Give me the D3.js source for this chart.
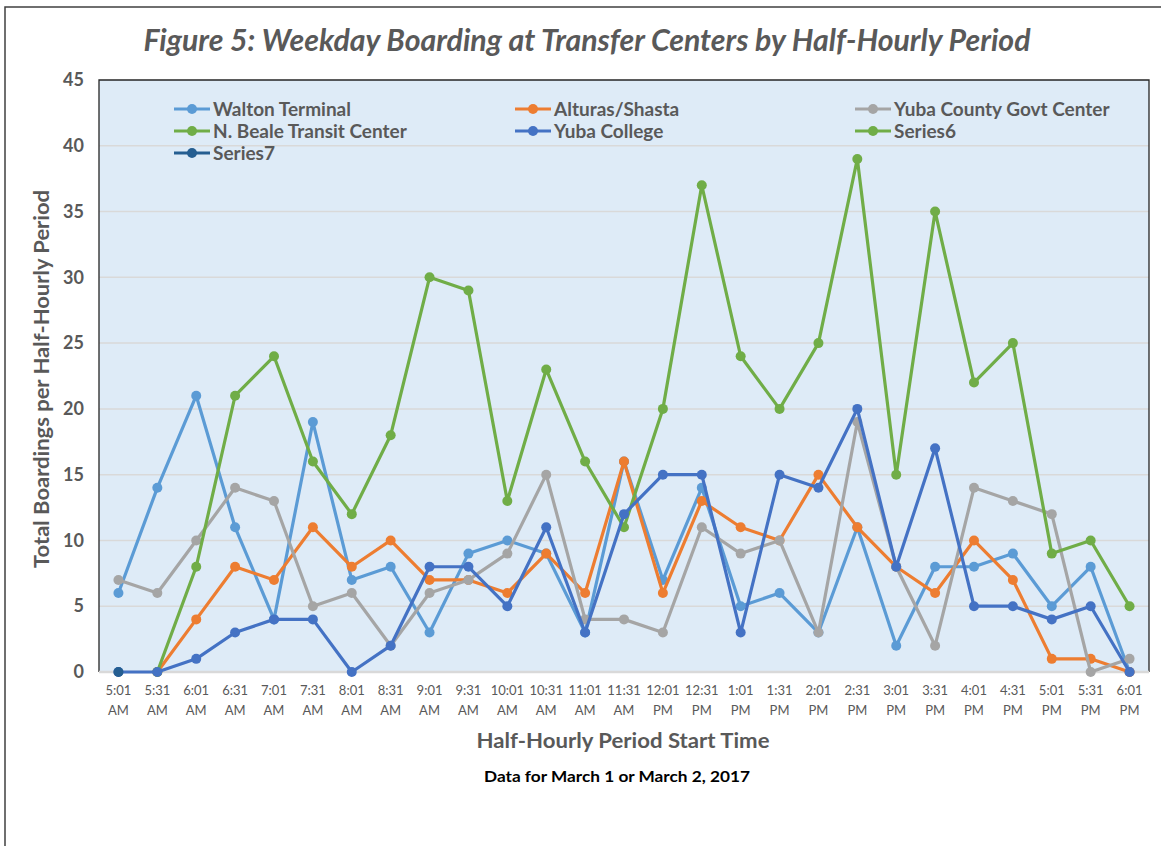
<!DOCTYPE html>
<html>
<head>
<meta charset="utf-8">
<script src="https://cdn.jsdelivr.net/npm/d3@7"></script>
<style>
  body { margin: 0; background: #fff; }
  svg { display: block; font-family: Lato, "Open Sans", sans-serif; }
</style>
</head>
<body>
<svg width="1161" height="846"></svg>
<script>
const times = ["5:01 AM", "5:31 AM", "6:01 AM", "6:31 AM", "7:01 AM", "7:31 AM", "8:01 AM", "8:31 AM",
  "9:01 AM", "9:31 AM", "10:01 AM", "10:31 AM", "11:01 AM", "11:31 AM", "12:01 PM", "12:31 PM",
  "1:01 PM", "1:31 PM", "2:01 PM", "2:31 PM", "3:01 PM", "3:31 PM", "4:01 PM", "4:31 PM",
  "5:01 PM", "5:31 PM", "6:01 PM"];

const walton = [6, 14, 21, 11, 4, 19, 7, 8, 3, 9, 10, 9, 3, 16, 7, 14, 5, 6, 3, 11, 2, 8, 8, 9, 5, 8, 0];
const alturas = [null, 0, 4, 8, 7, 11, 8, 10, 7, 7, 6, 9, 6, 16, 6, 13, 11, 10, 15, 11, 8, 6, 10, 7, 1, 1, 0];
const yubaCounty = [7, 6, 10, 14, 13, 5, 6, 2, 6, 7, 9, 15, 4, 4, 3, 11, 9, 10, 3, 19, 8, 2, 14, 13, 12, 0, 1];
const nBeale = [null, 0, 8, 21, 24, 16, 12, 18, 30, 29, 13, 23, 16, 11, 20, 37, 24, 20, 25, 39, 15, 35, 22, 25, 9, 10, 5];
const yubaCollege = [0, 0, 1, 3, 4, 4, 0, 2, 8, 8, 5, 11, 3, 12, 15, 15, 3, 15, 14, 20, 8, 17, 5, 5, 4, 5, 0];
const series6 = [];
const series7 = [0];

const yTicks = [0, 5, 10, 15, 20, 25, 30, 35, 40, 45];

const series = [
  { name: "Walton Terminal", values: walton, color: "#5B9BD5" },
  { name: "Alturas/Shasta", values: alturas, color: "#ED7D31" },
  { name: "Yuba County Govt Center", values: yubaCounty, color: "#A5A5A5" },
  { name: "N. Beale Transit Center", values: nBeale, color: "#70AD47" },
  { name: "Yuba College", values: yubaCollege, color: "#4472C4" },
  { name: "Series6", values: series6, color: "#70AD47" },
  { name: "Series7", values: series7, color: "#255E91" }
];

const svg = d3.select("svg");
const textColor = "#595959";

// plot area
const plot = { left: 99, right: 1149, top: 80, bottom: 672 };

const x = d3.scaleBand()
  .domain(times)
  .range([plot.left, plot.right]);

const y = d3.scaleLinear()
  .domain([0, 45])
  .range([plot.bottom, plot.top]);

// outer frame (partially visible)
svg.append("path")
  .attr("d", "M5,846 V7 H1161")
  .attr("fill", "none")
  .attr("stroke", "#404040")
  .attr("stroke-width", 1.5);

svg.append("rect")
  .attr("x", plot.left)
  .attr("y", plot.top)
  .attr("width", plot.right - plot.left)
  .attr("height", plot.bottom - plot.top)
  .attr("fill", "#DEEBF7");

// gridlines
svg.append("g")
  .selectAll("line")
  .data(yTicks.filter(d => d > 0 && d < 45))
  .enter()
  .append("line")
  .attr("x1", plot.left)
  .attr("x2", plot.right)
  .attr("y1", d => y(d))
  .attr("y2", d => y(d))
  .attr("stroke", "#D9D9D9")
  .attr("stroke-width", 1.5);

// plot border: top, left, right dark; bottom is the gray category axis
svg.append("path")
  .attr("d", `M${plot.left},${plot.bottom} V${plot.top} H${plot.right} V${plot.bottom}`)
  .attr("fill", "none")
  .attr("stroke", "#262626")
  .attr("stroke-width", 1.3);

svg.append("line")
  .attr("x1", plot.left)
  .attr("x2", plot.right)
  .attr("y1", plot.bottom)
  .attr("y2", plot.bottom)
  .attr("stroke", "#D9D9D9")
  .attr("stroke-width", 2.5);

// y axis labels
const yAxis = d3.axisLeft(y).tickValues(yTicks).tickSize(0).tickPadding(15);
const yG = svg.append("g")
  .attr("transform", `translate(${plot.left},0)`)
  .call(yAxis);
yG.select(".domain").remove();
yG.selectAll("text")
  .attr("fill", textColor)
  .attr("font-size", 18)
  .attr("font-weight", "bold")
  .attr("font-family", "Lato, sans-serif");

// x axis labels (two lines)
const xAxis = d3.axisBottom(x).tickSize(0).tickPadding(14);
const xG = svg.append("g")
  .attr("transform", `translate(0,${plot.bottom})`)
  .call(xAxis);
xG.select(".domain").remove();
xG.selectAll("text")
  .attr("fill", textColor)
  .attr("font-size", 13)
  .attr("font-family", "Lato, sans-serif")
  .each(function(d) {
    const parts = d.split(" ");
    const t = d3.select(this).text(null);
    t.append("tspan").attr("x", 0).text(parts[0]);
    t.append("tspan").attr("x", 0).attr("dy", "1.55em").text(parts[1]);
  });

// series
const line = d3.line()
  .defined(d => d.v != null)
  .x(d => x(d.t) + x.bandwidth() / 2)
  .y(d => y(d.v));

series.forEach(s => {
  const pts = s.values.map((v, i) => ({ t: times[i], v }));
  const g = svg.append("g");
  g.append("path")
    .datum(pts)
    .attr("d", line)
    .attr("fill", "none")
    .attr("stroke", s.color)
    .attr("stroke-width", 3.2)
    .attr("stroke-linejoin", "round");
  g.selectAll("circle")
    .data(pts.filter(d => d.v != null))
    .enter()
    .append("circle")
    .attr("cx", d => x(d.t) + x.bandwidth() / 2)
    .attr("cy", d => y(d.v))
    .attr("r", 5)
    .attr("fill", s.color);
});

// legend
const legendCols = [174, 515, 855];
const legendRows = [109, 131, 153];
const legend = svg.append("g");
series.forEach((s, i) => {
  const lx = legendCols[i % 3];
  const ly = legendRows[Math.floor(i / 3)];
  const item = legend.append("g").attr("transform", `translate(${lx},${ly})`);
  item.append("line")
    .attr("x1", 0).attr("x2", 36)
    .attr("stroke", s.color)
    .attr("stroke-width", 3.2);
  item.append("circle")
    .attr("cx", 18)
    .attr("r", 5)
    .attr("fill", s.color);
  item.append("text")
    .attr("x", 39)
    .attr("y", 6.5)
    .attr("fill", textColor)
    .attr("font-size", 19)
    .attr("font-weight", "bold")
    .text(s.name);
});

// titles
function fit(sel, w) {
  return sel.attr("textLength", w).attr("lengthAdjust", "spacingAndGlyphs");
}

fit(svg.append("text")
  .attr("x", 587)
  .attr("y", 51)
  .attr("text-anchor", "middle")
  .attr("fill", textColor)
  .attr("font-size", 30)
  .attr("font-weight", "bold")
  .attr("font-style", "italic")
  .text("Figure 5: Weekday Boarding at Transfer Centers by Half-Hourly Period"), 887);

fit(svg.append("text")
  .attr("x", 623)
  .attr("y", 748)
  .attr("text-anchor", "middle")
  .attr("fill", textColor)
  .attr("font-size", 21)
  .attr("font-weight", "bold")
  .text("Half-Hourly Period Start Time"), 293);

fit(svg.append("text")
  .attr("x", 617)
  .attr("y", 782)
  .attr("text-anchor", "middle")
  .attr("fill", "#000")
  .attr("font-size", 16)
  .attr("font-weight", "bold")
  .text("Data for March 1 or March 2, 2017"), 266);

fit(svg.append("text")
  .attr("transform", "translate(49,379) rotate(-90)")
  .attr("text-anchor", "middle")
  .attr("fill", textColor)
  .attr("font-size", 21)
  .attr("font-weight", "bold")
  .text("Total Boardings per Half-Hourly Period"), 378);
</script>
</body>
</html>
